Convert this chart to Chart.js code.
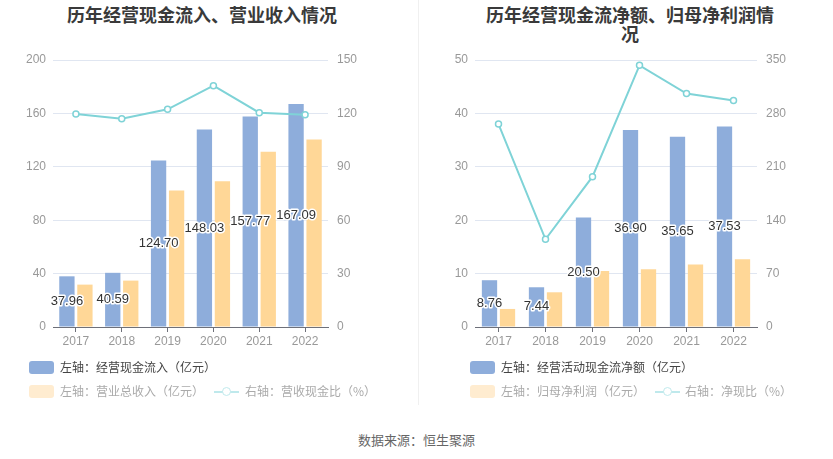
<!DOCTYPE html>
<html><head><meta charset="utf-8">
<script src="https://cdn.jsdelivr.net/npm/chart.js@4"></script>
<style>
body{margin:0;width:833px;height:459px;background:#fff;position:relative;overflow:hidden;font-family:"Noto Sans CJK SC","Noto Sans",sans-serif;}
.title{position:absolute;font-weight:bold;font-size:18px;color:#3a3a3a;text-align:center;line-height:19px;white-space:nowrap;}
.cv{position:absolute;top:0;}
.divider{position:absolute;left:418px;top:0;width:1px;height:405px;background:#f0f0f0;}
.leg{position:absolute;font-size:12px;line-height:14px;white-space:nowrap;}
.sq{position:absolute;width:25px;height:13px;border-radius:3px;}
.lt{position:absolute;}
.foot{position:absolute;left:0;width:833px;top:430px;text-align:center;font-size:13px;color:#666;}
</style></head>
<body>
<div class="title" style="left:52px;width:300px;top:5px;">历年经营现金流入、营业收入情况</div>
<div class="title" style="left:480px;width:300px;top:5px;">历年经营现金流净额、归母净利润情<br>况</div>
<div class="divider"></div>
<canvas id="c1" class="cv" style="left:0px" width="418" height="360"></canvas>
<canvas id="c2" class="cv" style="left:420px" width="413" height="360"></canvas>
<div id="leg1"></div>
<div id="leg2"></div>
<div class="foot">数据来源：恒生聚源</div>
<script>
// ---- data ----
const years = ['2017','2018','2019','2020','2021','2022'];
// left chart
const cashInflow = [37.96, 40.59, 124.70, 148.03, 157.77, 167.09];
const revenue = [31.75, 34.75, 102.25, 109.25, 131.25, 140.5];
const cashRevenueRatio = [119.6, 117.0, 122.3, 135.6, 120.4, 119.3];
// right chart
const netCashFlow = [8.76, 7.44, 20.50, 36.90, 35.65, 37.53];
const netProfit = [3.38, 6.5, 10.5, 10.8, 11.7, 12.7];
const netCashRatio = [266, 115, 197, 343, 306, 297];
// names
const names1 = ['左轴：经营现金流入（亿元）','左轴：营业总收入（亿元）','右轴：营收现金比（%）'];
const names2 = ['左轴：经营活动现金流净额（亿元）','左轴：归母净利润（亿元）','右轴：净现比（%）'];
// axis ranges
const axis1 = {lmax:200, lstep:40, rmax:150, rstep:30};
const axis2 = {lmax:50, lstep:10, rmax:350, rstep:70};

const BLUE='#8eaddb', ORANGE='#ffd797', LINE='#7fd3d7';

const labelPlugin = {
  id:'barLabels',
  afterDatasetsDraw(chart){
    const ctx=chart.ctx;
    const meta=chart.getDatasetMeta(0);
    const data=chart.data.datasets[0].data;
    ctx.save();
    ctx.font='13px "Liberation Sans", Arial, sans-serif';
    ctx.textAlign='center';ctx.textBaseline='middle';
    ctx.lineJoin='round';
    meta.data.forEach((el,i)=>{
      const y=(el.y+el.base)/2;
      const t=data[i].toFixed(2);
      ctx.strokeStyle='#fff';ctx.lineWidth=3;
      ctx.strokeText(t,el.x,y);
      ctx.fillStyle='#333';
      ctx.fillText(t,el.x,y);
    });
    ctx.restore();
  }
};

function makeChart(id, bars1, bars2, line, names, ax, leftW, rightW, catPct){
  new Chart(document.getElementById(id),{
    data:{
      labels:years,
      datasets:[
        {type:'bar',label:names[0],data:bars1,backgroundColor:BLUE,yAxisID:'y',order:2,categoryPercentage:catPct,barPercentage:0.85},
        {type:'bar',label:names[1],data:bars2,backgroundColor:ORANGE,yAxisID:'y',order:2,categoryPercentage:catPct,barPercentage:0.85},
        {type:'line',label:names[2],data:line,borderColor:LINE,borderWidth:2,pointRadius:3,pointBorderWidth:1.5,pointBackgroundColor:'#fff',pointBorderColor:LINE,yAxisID:'y1',order:1,tension:0}
      ]
    },
    options:{
      responsive:false,animation:false,devicePixelRatio:1,
      layout:{padding:{top:60,left:0,right:0,bottom:0}},
      plugins:{legend:{display:false},tooltip:{enabled:false}},
      scales:{
        x:{offset:true,
           grid:{display:true,drawOnChartArea:false,offset:false,tickLength:5,color:'#6e7079'},
           border:{color:'#6e7079'},
           ticks:{color:'#999',font:{size:12,family:'"Liberation Sans", Arial, sans-serif'},padding:2},
           afterFit(s){s.height=33;}},
        y:{position:'left',min:0,max:ax.lmax,
           ticks:{stepSize:ax.lstep,color:'#999',font:{size:12,family:'"Liberation Sans", Arial, sans-serif'},padding:7},
           grid:{color:'#e0e6f1',drawTicks:false},border:{display:false},
           afterFit(s){s.width=leftW;}},
        y1:{position:'right',min:0,max:ax.rmax,
           ticks:{stepSize:ax.rstep,color:'#999',font:{size:12,family:'"Liberation Sans", Arial, sans-serif'},padding:9},
           grid:{display:false,drawTicks:false},border:{display:false},
           afterFit(s){s.width=rightW;}}
      }
    },
    plugins:[labelPlugin]
  });
}
makeChart('c1',cashInflow,revenue,cashRevenueRatio,names1,axis1,53,90,0.786);
makeChart('c2',netCashFlow,netProfit,netCashRatio,names2,axis2,55,76,0.766);

function legend(id, names, x, lineX, textX2){
  const el=document.getElementById(id);
  el.innerHTML=
   `<div class="sq" style="left:${x}px;top:361px;background:${BLUE}"></div>`+
   `<div class="leg" style="left:${x+31}px;top:360px;color:#444">${names[0]}</div>`+
   `<div class="sq" style="left:${x}px;top:385px;background:#ffecd0"></div>`+
   `<div class="leg" style="left:${x+31}px;top:384px;color:#aaa">${names[1]}</div>`+
   `<div style="position:absolute;left:${lineX}px;top:391px;width:25px;height:2px;background:#bfe9ec"></div>`+
   `<div style="position:absolute;left:${lineX+8}px;top:387px;width:7px;height:7px;border:1.5px solid #bfe9ec;border-radius:50%;background:#fff"></div>`+
   `<div class="leg" style="left:${textX2}px;top:384px;color:#aaa">${names[2]}</div>`;
}
legend('leg1',names1,29,214,245);
legend('leg2',names2,470,655,685);
</script>
</body></html>
